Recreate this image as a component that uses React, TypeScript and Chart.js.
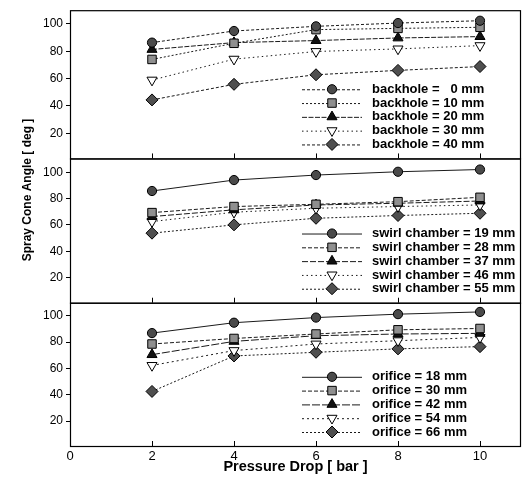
import { useEffect, useRef } from 'react';
import { Chart, registerables } from 'chart.js';
import { drawPoint } from 'chart.js/helpers';

Chart.register(...registerables);

const pressure = [2, 4, 6, 8, 10];
const xTicks = [0, 2, 4, 6, 8, 10];
const yTicks = [20, 40, 60, 80, 100];

const backholeLabels = ['backhole = 0 mm', 'backhole = 10 mm', 'backhole = 20 mm', 'backhole = 30 mm', 'backhole = 40 mm'];
const bh0 = [86.3, 94.8, 98.2, 100.6, 102.3];
const bh10 = [74, 85.8, 95.8, 96.7, 97.5];
const bh20 = [81.3, 86.3, 87.8, 89.7, 90.7];
const bh30 = [58.9, 74.2, 79.8, 81.7, 84.1];
const bh40 = [44.4, 55.8, 62.8, 66, 68.8];

const swirlLabels = ['swirl chamber = 19 mm', 'swirl chamber = 28 mm', 'swirl chamber = 37 mm', 'swirl chamber = 46 mm', 'swirl chamber = 55 mm'];
const sc19 = [85.8, 94.1, 97.9, 100.4, 102.1];
const sc28 = [69.4, 74, 75.7, 77.7, 81];
const sc37 = [66.4, 71.5, 75.2, 76.5, 78.2];
const sc46 = [62.6, 69.7, 72.7, 74, 75.2];
const sc55 = [53.8, 60.1, 65.1, 67.2, 68.9];

const orificeLabels = ['orifice = 18 mm', 'orifice = 30 mm', 'orifice = 42 mm', 'orifice = 54 mm', 'orifice = 66 mm'];
const or18 = [86.9, 94.8, 98.7, 101.3, 103];
const or30 = [78.6, 82.8, 86.2, 89.4, 90.4];
const or42 = [70.5, 80.6, 84.9, 86.2, 86.7];
const or54 = [62.3, 73.6, 78.6, 81.1, 83.6];
const or66 = [42.5, 69.5, 72.3, 74.9, 76.6];

const markerStyles = ['circle', 'rect', 'triangle', 'triangle', 'rectRot'];
const markerRotations = [0, 0, 0, 180, 0];
const markerFills = ['#4a4a4a', '#8f8f8f', '#111111', '#ffffff', '#4f4f4f'];
const markerRadii = [4.6, 6, 5.8, 5.8, 6];

const panelDashes = [
  [[3, 2], [2, 2], [5, 1.5], [1.5, 3], [3, 2]],
  [[], [4, 2], [6, 2], [1.5, 3], [2, 2]],
  [[], [4, 2], [8, 2], [2, 3], [2, 2]],
];

const FONT = '"Liberation Sans", Arial, Helvetica, sans-serif';

function makeSets(labels: string[], series: number[][], axis: string, panel: number) {
  return series.map((vals, i) => ({
    label: labels[i],
    data: vals.map((v, j) => ({ x: pressure[j], y: v })),
    yAxisID: axis,
    borderColor: '#1a1a1a',
    borderWidth: 1,
    borderDash: panelDashes[panel][i],
    pointStyle: markerStyles[i],
    rotation: markerRotations[i],
    pointRotation: markerRotations[i],
    pointRadius: markerRadii[i],
    pointBackgroundColor: markerFills[i],
    pointBorderColor: '#000',
    pointBorderWidth: 1,
    showLine: true,
    tension: 0,
    panel,
    idx: i,
  }));
}

const panelAxes = ['yTop', 'yMid', 'yBot'];

const overlayPlugin = {
  id: 'overlay',
  afterDatasetsDraw(chart: any) {
    const ctx = chart.ctx;
    const area = chart.chartArea;
    const xs = chart.scales.x;
    ctx.save();
    panelAxes.forEach((id) => {
      const s = chart.scales[id];
      ctx.strokeStyle = '#000';
      ctx.lineWidth = 1.2;
      ctx.setLineDash([]);
      ctx.strokeRect(area.left + 0.5, s.top + 0.5, area.right - area.left - 1, s.bottom - s.top);
      ctx.lineWidth = 1;
      xTicks.forEach((t) => {
        if (t === 0) return;
        const px = Math.round(xs.getPixelForValue(t)) + 0.5;
        ctx.beginPath();
        ctx.moveTo(px, s.bottom);
        ctx.lineTo(px, s.bottom - 5);
        ctx.stroke();
      });
    });
    const groups = [0, 1, 2].map((p) => chart.data.datasets.filter((d: any) => d.panel === p));
    groups.forEach((sets: any[], p: number) => {
      const s = chart.scales[panelAxes[p]];
      ctx.font = 'bold 13px ' + FONT;
      const textX = 372;
      let maxW = 0;
      sets.forEach((d) => { maxW = Math.max(maxW, ctx.measureText(d.label).width); });
      const rightEnd = textX + maxW;
      const step = 13.8;
      const lastY = s.bottom - 14;
      sets.forEach((d, i) => {
        const y = lastY - (sets.length - 1 - i) * step;
        ctx.strokeStyle = '#1a1a1a';
        ctx.lineWidth = 1;
        ctx.setLineDash(d.borderDash);
        ctx.beginPath();
        ctx.moveTo(302, y + 0.5);
        ctx.lineTo(362, y + 0.5);
        ctx.stroke();
        ctx.setLineDash([]);
        ctx.fillStyle = d.pointBackgroundColor;
        ctx.strokeStyle = '#000';
        drawPoint(ctx, { pointStyle: d.pointStyle, rotation: d.pointRotation, radius: d.pointRadius, borderWidth: 1 }, 332, y);
        ctx.fillStyle = '#000';
        ctx.textBaseline = 'middle';
        const parts = d.label.split('= ');
        ctx.textAlign = 'left';
        ctx.fillText(parts[0] + '=', textX, y);
        ctx.textAlign = 'right';
        ctx.fillText(parts[1], rightEnd, y);
      });
    });
    ctx.fillStyle = '#000';
    ctx.font = 'bold 14.5px ' + FONT;
    ctx.textAlign = 'center';
    ctx.textBaseline = 'middle';
    ctx.fillText('Pressure Drop [ bar ]', (area.left + area.right) / 2, 467);
    ctx.translate(28, 190);
    ctx.rotate(-Math.PI / 2);
    ctx.font = 'bold 12px ' + FONT;
    ctx.fillText('Spray Cone Angle [ deg ]', 0, 0);
    ctx.restore();
  },
};

function yAxis(min: number, max: number, weight: number, stackWeight: number) {
  return {
    type: 'linear' as const,
    position: 'left' as const,
    stack: 'panels',
    stackWeight,
    weight,
    min,
    max,
    border: { display: false },
    grid: { display: true, drawOnChartArea: false, drawTicks: true, tickLength: 4, color: '#000', tickColor: '#000' },
    ticks: { color: '#000', padding: 3, font: { size: 12, family: FONT } },
    afterBuildTicks: (axis: any) => { axis.ticks = yTicks.map((v) => ({ value: v })); },
    afterFit: (axis: any) => { axis.width = 70; },
  };
}

export default function App() {
  const ref = useRef<HTMLCanvasElement>(null);
  useEffect(() => {
    if (!ref.current) return;
    const datasets = [
      ...makeSets(backholeLabels, [bh0, bh10, bh20, bh30, bh40], 'yTop', 0),
      ...makeSets(swirlLabels, [sc19, sc28, sc37, sc46, sc55], 'yMid', 1),
      ...makeSets(orificeLabels, [or18, or30, or42, or54, or66], 'yBot', 2),
    ];
    const chart = new Chart(ref.current, {
      type: 'line',
      data: { datasets: datasets as any },
      options: {
        animation: false,
        responsive: true,
        maintainAspectRatio: false,
        layout: { autoPadding: false, padding: { top: 8, right: 4, left: 0, bottom: 0 } },
        plugins: { legend: { display: false }, tooltip: { enabled: false } },
        scales: {
          x: {
            type: 'linear',
            min: 0,
            max: 11,
            border: { display: false },
            grid: { display: false, drawTicks: false },
            ticks: { color: '#000', padding: 3, font: { size: 13, family: FONT } },
            afterBuildTicks: (axis: any) => { axis.ticks = xTicks.map((v) => ({ value: v })); },
            afterFit: (axis: any) => { axis.height = 34; },
          },
          yTop: yAxis(1.6, 110, 3, 149),
          yMid: yAxis(1, 110.5, 2, 145),
          yBot: yAxis(1, 110, 1, 144),
        },
      } as any,
      plugins: [overlayPlugin],
    });
    return () => chart.destroy();
  }, []);
  return (
    <div style={{ position: 'fixed', left: 0, top: 0, width: 525, height: 480, background: '#fff' }}>
      <canvas ref={ref} />
    </div>
  );
}
